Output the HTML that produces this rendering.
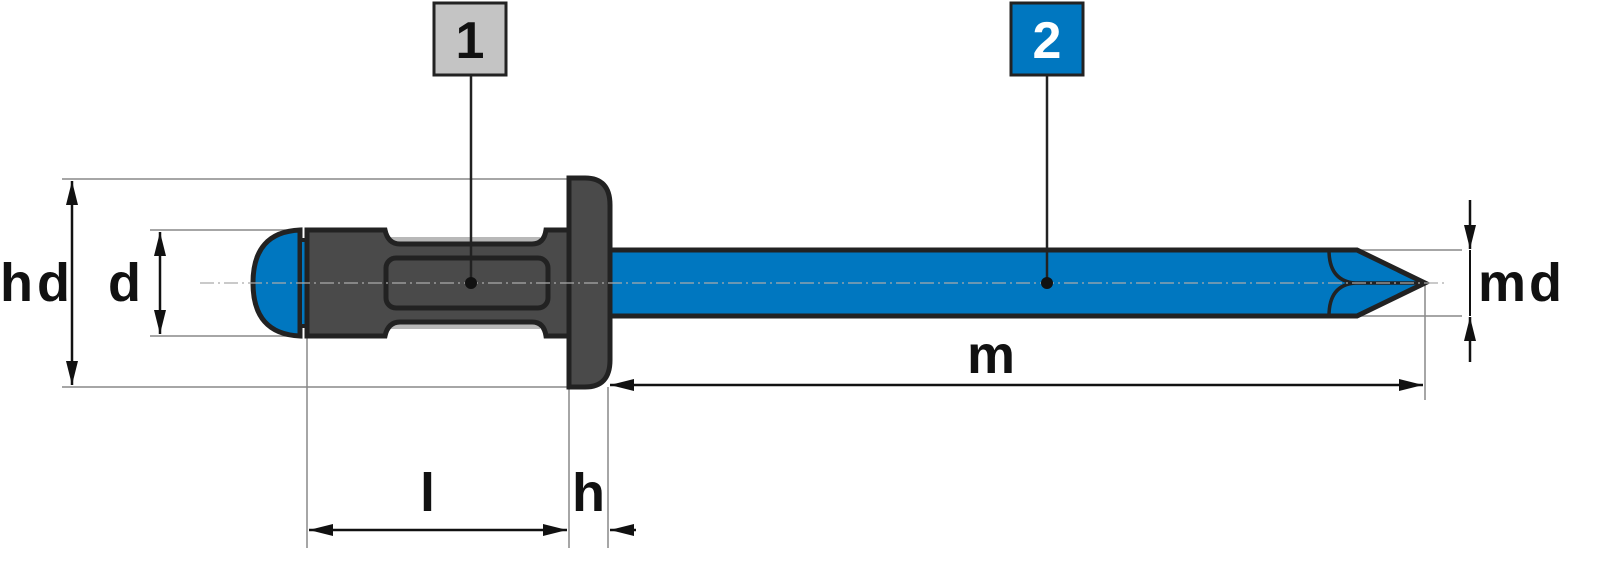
<!DOCTYPE html>
<html><head><style>html,body{margin:0;padding:0;background:#fff}svg{display:block}</style></head>
<body>
<svg width="1606" height="563" viewBox="0 0 1606 563" xmlns="http://www.w3.org/2000/svg" font-family="Liberation Sans, sans-serif" font-weight="bold">
<defs>
<marker id="a" markerWidth="24" markerHeight="12" refX="24" refY="6" orient="auto" markerUnits="userSpaceOnUse"><path d="M0,0 L24,6 L0,12z" fill="#111"/></marker>
</defs>
<g stroke="#888" stroke-width="1.5" fill="none">
<line x1="62" y1="179" x2="569" y2="179"/>
<line x1="62" y1="387" x2="569" y2="387"/>
<line x1="150" y1="230" x2="300" y2="230"/>
<line x1="150" y1="336" x2="300" y2="336"/>
<line x1="307" y1="336" x2="307" y2="548"/>
<line x1="569" y1="387" x2="569" y2="548"/>
<line x1="608" y1="387" x2="608" y2="548"/>
<line x1="1425" y1="285" x2="1425" y2="400"/>
<line x1="1357" y1="250" x2="1462" y2="250"/>
<line x1="1357" y1="316" x2="1462" y2="316"/>
</g>
<path d="M600,250 H1357 L1425,283 L1357,316 H600 Z" fill="#0077c0" stroke="#222" stroke-width="5"/>
<path d="M1329,250 Q1329,281 1355,283 Q1329,285 1329,316" fill="none" stroke="#222" stroke-width="3.5"/>
<line x1="1355" y1="283" x2="1425" y2="283" stroke="#222" stroke-width="3.5"/>
<path d="M300,230 Q253,232 253,283 Q253,334 300,336 Z" fill="#0077c0" stroke="#222" stroke-width="5"/>
<rect x="300" y="240" width="7" height="86" fill="#0077c0" stroke="#222" stroke-width="4"/>
<rect x="390" y="237" width="150" height="9" fill="#b8b8b8"/>
<rect x="390" y="320" width="150" height="9" fill="#b8b8b8"/>
<path d="M307,230 H385 Q388,244 400,244 H532 Q544,244 546,230 H572 V336 H546 Q544,322 532,322 H400 Q388,322 385,336 H307 Z" fill="#4a4a4a" stroke="#222" stroke-width="5"/>
<rect x="386" y="258" width="162" height="50" rx="10" fill="none" stroke="#222" stroke-width="5"/>
<path d="M569,178 H585 Q610,178 610,205 V360 Q610,387 585,387 H569 Z" fill="#4a4a4a" stroke="#222" stroke-width="5"/>
<line x1="200" y1="283" x2="1445" y2="283" stroke="#aaa" stroke-width="1.2" stroke-dasharray="14,4,2,4"/>
<line x1="471" y1="75" x2="471" y2="283" stroke="#222" stroke-width="2.5"/>
<circle cx="471" cy="283" r="6" fill="#111"/>
<line x1="1047" y1="75" x2="1047" y2="283" stroke="#222" stroke-width="2.5"/>
<circle cx="1047" cy="283" r="6" fill="#111"/>
<rect x="434" y="3" width="72" height="72" fill="#c4c4c4" stroke="#222" stroke-width="3"/>
<text x="470" y="58" font-size="52" text-anchor="middle" fill="#111">1</text>
<rect x="1011" y="3" width="72" height="72" fill="#0077c0" stroke="#222" stroke-width="3"/>
<text x="1047" y="58" font-size="52" text-anchor="middle" fill="#fff">2</text>
<g stroke="#111" stroke-width="2.5" fill="none">
<line x1="72" y1="283" x2="72" y2="181" marker-end="url(#a)"/>
<line x1="72" y1="283" x2="72" y2="385" marker-end="url(#a)"/>
<line x1="160" y1="283" x2="160" y2="232" marker-end="url(#a)"/>
<line x1="160" y1="283" x2="160" y2="334" marker-end="url(#a)"/>
<line x1="438" y1="530" x2="309" y2="530" marker-end="url(#a)"/>
<line x1="438" y1="530" x2="567" y2="530" marker-end="url(#a)"/>
<line x1="636" y1="530" x2="610" y2="530" marker-end="url(#a)"/>
<line x1="1017" y1="385" x2="610" y2="385" marker-end="url(#a)"/>
<line x1="1017" y1="385" x2="1423" y2="385" marker-end="url(#a)"/>
<line x1="1470" y1="200" x2="1470" y2="249" marker-end="url(#a)"/>
<line x1="1470" y1="362" x2="1470" y2="317" marker-end="url(#a)"/>
<line x1="1470" y1="250" x2="1470" y2="316" stroke-width="2"/>
</g>
<g font-size="54" fill="#111">
<text x="0" y="301" letter-spacing="4">hd</text>
<text x="108" y="301">d</text>
<text x="420" y="511">l</text>
<text x="572" y="511">h</text>
<text x="967" y="373">m</text>
<text x="1478" y="301" letter-spacing="3">md</text>
</g>
</svg>
</body></html>
